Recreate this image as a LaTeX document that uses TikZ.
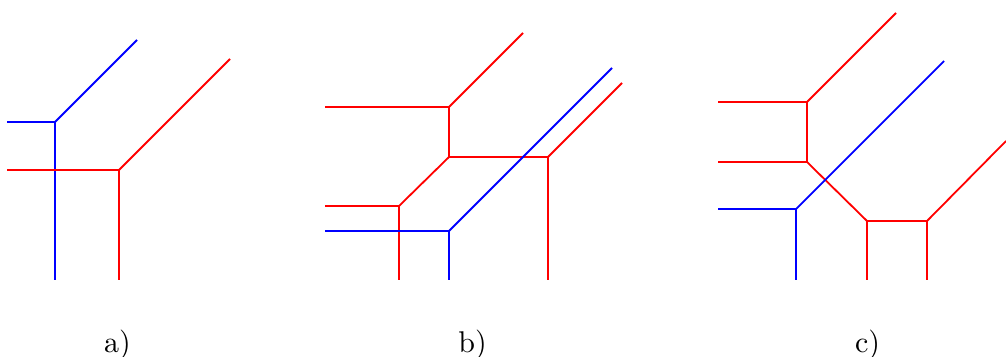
\documentclass[tikz,border=0pt]{standalone}
\begin{document}
\begin{tikzpicture}[x=0.3333pt,y=-0.3333pt,
  rl/.style={red,line width=0.6pt},
  bl/.style={blue,line width=0.6pt},
  lab/.style={anchor=base,inner sep=0pt}]
\useasboundingbox (0,0) rectangle (1006,356);
% ---- panel a
\coordinate (aB) at (55,122);
\coordinate (aBl) at (7,122);
\coordinate (aBd) at (55,280);
\coordinate (aBu) at (137,40);
\coordinate (aR) at (119,170);
\coordinate (aRl) at (7,170);
\coordinate (aRd) at (119,280);
\coordinate (aRu) at (230,59);
\draw[bl] (aBl) -- (aB) -- (aBd);
\draw[bl] (aB) -- (aBu);
\draw[rl] (aRl) -- (aR) -- (aRd);
\draw[rl] (aR) -- (aRu);
% ---- panel b
\coordinate (b1) at (449,107);
\coordinate (b1l) at (325,107);
\coordinate (b1u) at (523,33);
\coordinate (b2) at (449,157);
\coordinate (b3) at (548,157);
\coordinate (b3u) at (622,83);
\coordinate (b3d) at (548,280);
\coordinate (b4) at (399,206);
\coordinate (b4l) at (325,206);
\coordinate (b4d) at (399,280);
\coordinate (bB) at (449,231);
\coordinate (bBl) at (325,231);
\coordinate (bBd) at (449,280);
\coordinate (bBu) at (612,68);
\draw[rl] (b1l) -- (b1) -- (b1u);
\draw[rl] (b1) -- (b2) -- (b3) -- (b3u);
\draw[rl] (b3) -- (b3d);
\draw[rl] (b2) -- (b4);
\draw[rl] (b4l) -- (b4) -- (b4d);
\draw[bl] (bBl) -- (bB) -- (bBd);
\draw[bl] (bB) -- (bBu);
% ---- panel c
\coordinate (c1) at (807,102);
\coordinate (c1l) at (718,102);
\coordinate (c1u) at (896,13);
\coordinate (c2) at (807,162);
\coordinate (c2l) at (718,162);
\coordinate (c3) at (867,221);
\coordinate (c3d) at (867,280);
\coordinate (c4) at (927,221);
\coordinate (c4d) at (927,280);
\coordinate (c4u) at (1006,141);
\coordinate (cB) at (796,209);
\coordinate (cBl) at (718,209);
\coordinate (cBd) at (796,280);
\coordinate (cBu) at (944,61);
\draw[rl] (c1l) -- (c1) -- (c1u);
\draw[rl] (c1) -- (c2);
\draw[rl] (c2l) -- (c2) -- (c3) -- (c4) -- (c4u);
\draw[rl] (c3) -- (c3d);
\draw[rl] (c4) -- (c4d);
\draw[bl] (cBl) -- (cB) -- (cBd);
\draw[bl] (cB) -- (cBu);
% ---- labels
\node[lab] (la) at (117.5,352) {a)};
\node[lab] (lb) at (472.5,352) {b)};
\node[lab] (lc) at (867.5,352) {c)};
\end{tikzpicture}
\end{document}
